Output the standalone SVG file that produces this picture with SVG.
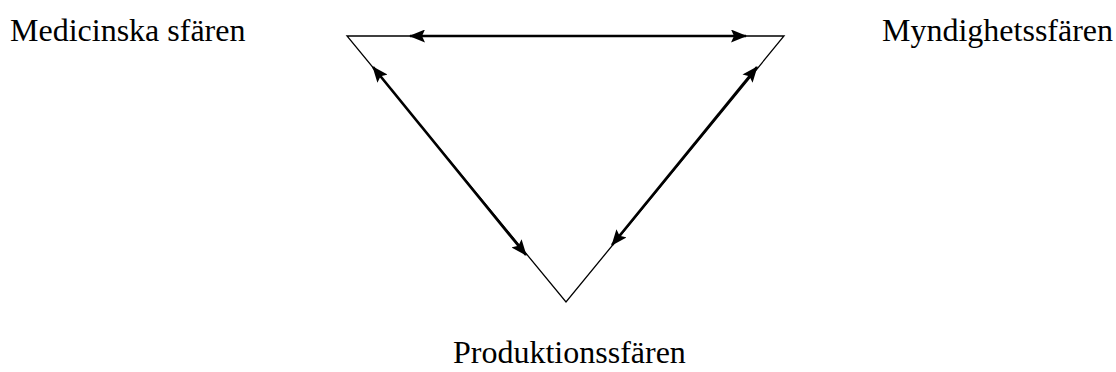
<svg xmlns="http://www.w3.org/2000/svg" width="1116" height="372" viewBox="0 0 1116 372">
<style>
.lbl{font-family:"Liberation Serif","Times New Roman",serif;font-size:32px;fill:#000}
.edge{stroke:#000;stroke-width:1.3;fill:none}
.arr{stroke:#000;stroke-width:2.6;fill:none;marker-start:url(#ah);marker-end:url(#ah)}
</style>
<defs>
<marker id="ah" viewBox="0 0 16 13" refX="15" refY="6.5" markerWidth="16" markerHeight="13" orient="auto-start-reverse" markerUnits="userSpaceOnUse">
<path d="M0,0 L16,6.5 L0,13 L3,6.5 Z" fill="#000"/>
</marker>
</defs>
<rect width="1116" height="372" fill="#fff"/>
<g id="node-medicinska"><text class="lbl" x="10" y="41">Medicinska sfären</text></g>
<g id="node-myndighets"><text class="lbl" x="882" y="41">Myndighetssfären</text></g>
<g id="node-produktions"><text class="lbl" x="453" y="363">Produktionssfären</text></g>
<g id="triangle">
<polygon class="edge" points="347,36 784,36 566,302"/>
</g>
<g id="connectors">
<line class="arr" x1="410" y1="36" x2="746" y2="36"/>
<line class="arr" x1="373" y1="67" x2="526" y2="255"/>
<line class="arr" x1="757" y1="67" x2="612" y2="245"/>
</g>
</svg>
